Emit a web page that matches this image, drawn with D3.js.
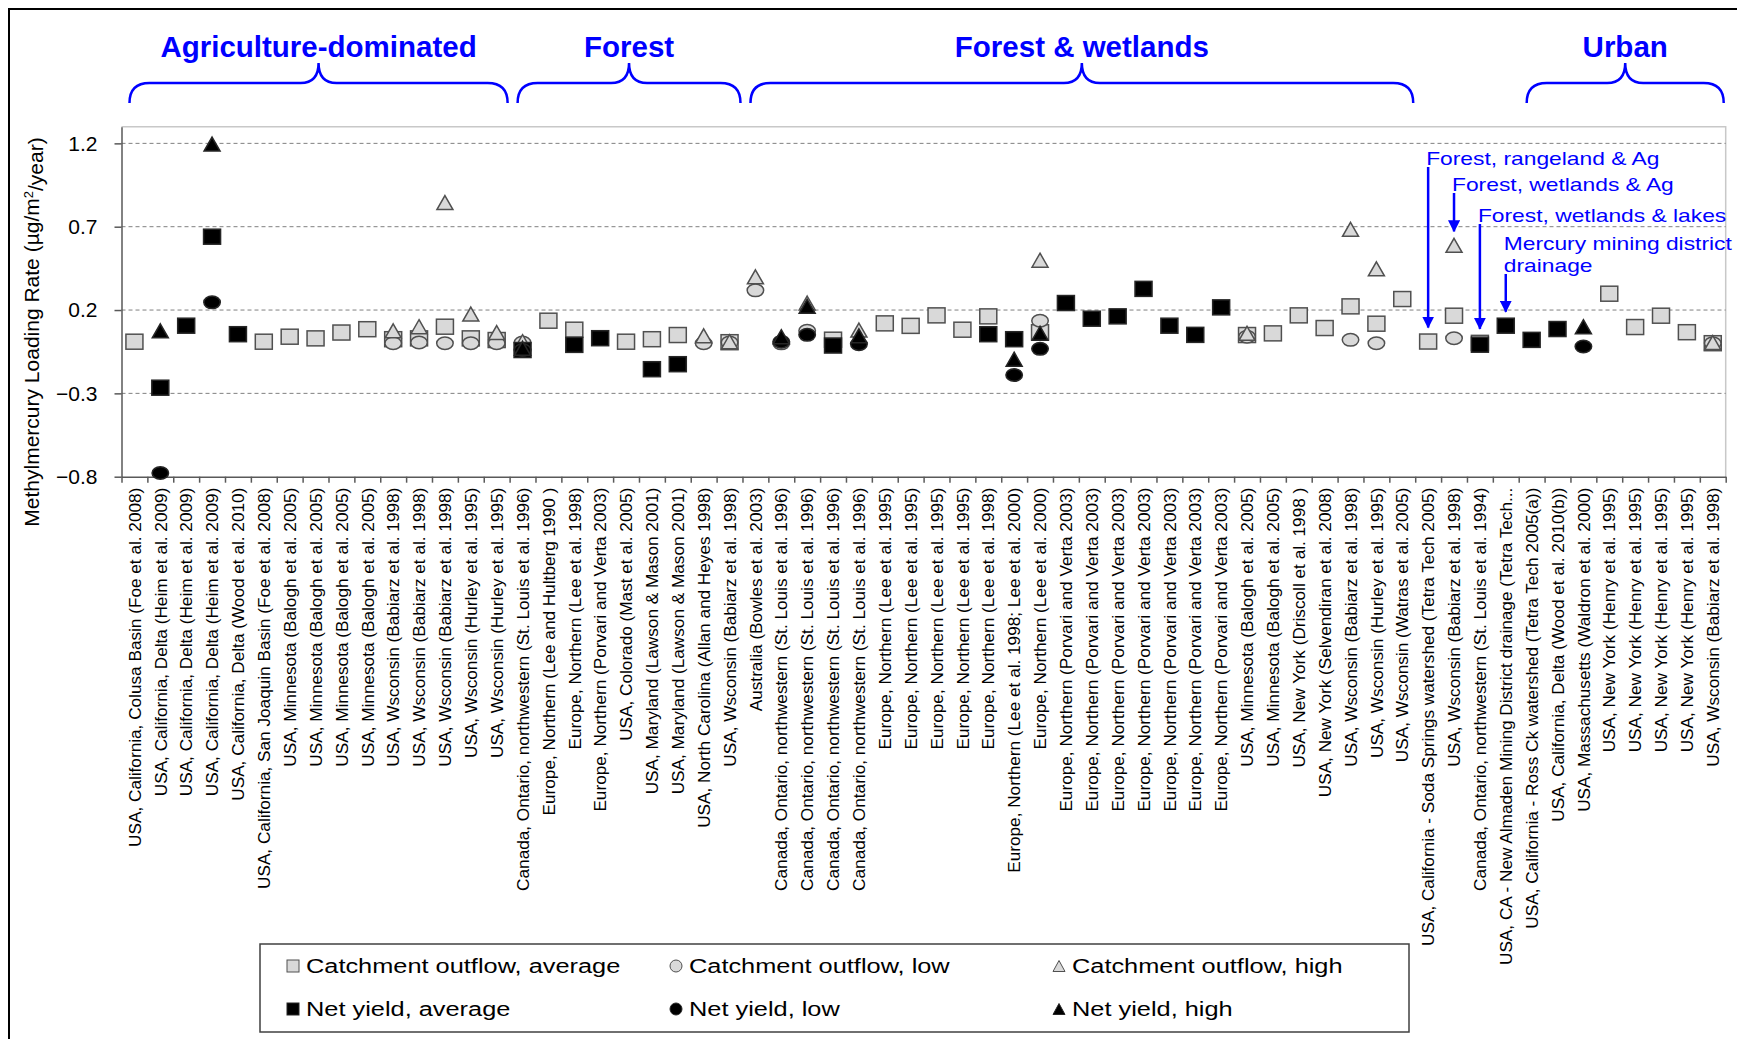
<!DOCTYPE html>
<meta charset="utf-8">
<style>
  body { margin: 0; background: #fff; }
  svg { display: block; font-family: "Liberation Sans", Arial, sans-serif; }
  .grid line { stroke: #808080; stroke-width: 1; stroke-dasharray: 4,3; }
  .axis path, .axis line { stroke: #595959; stroke-width: 1.5; }
  .ylab text { font-size: 21px; fill: #000; }
  .xlab text { font-size: 17.2px; fill: #000; }
</style>
<body>
<script src="https://d3js.org/d3.v7.min.js"></script>
<script>

var _ = null;

// one entry per site, left to right
var sites = [
  "USA, California, Colusa Basin (Foe et al. 2008)",
  "USA, California, Delta (Heim et al. 2009)",
  "USA, California, Delta (Heim et al. 2009)",
  "USA, California, Delta (Heim et al. 2009)",
  "USA, California, Delta (Wood et al. 2010)",
  "USA, California, San Joaquin Basin (Foe et al. 2008)",
  "USA, Minnesota (Balogh et al. 2005)",
  "USA, Minnesota (Balogh et al. 2005)",
  "USA, Minnesota (Balogh et al. 2005)",
  "USA, Minnesota (Balogh et al. 2005)",
  "USA, Wsconsin (Babiarz et al. 1998)",
  "USA, Wsconsin (Babiarz et al. 1998)",
  "USA, Wsconsin (Babiarz et al. 1998)",
  "USA, Wsconsin (Hurley et al. 1995)",
  "USA, Wsconsin (Hurley et al. 1995)",
  "Canada, Ontario, northwestern (St. Louis et al. 1996)",
  "Europe, Northern (Lee and Hultberg 1990 )",
  "Europe, Northern (Lee et al. 1998)",
  "Europe, Northern (Porvari and Verta 2003)",
  "USA, Colorado (Mast et al. 2005)",
  "USA, Maryland (Lawson & Mason 2001)",
  "USA, Maryland (Lawson & Mason 2001)",
  "USA, North Carolina (Allan and Heyes 1998)",
  "USA, Wsconsin (Babiarz et al. 1998)",
  "Australia (Bowles et al. 2003)",
  "Canada, Ontario, northwestern (St. Louis et al. 1996)",
  "Canada, Ontario, northwestern (St. Louis et al. 1996)",
  "Canada, Ontario, northwestern (St. Louis et al. 1996)",
  "Canada, Ontario, northwestern (St. Louis et al. 1996)",
  "Europe, Northern (Lee et al. 1995)",
  "Europe, Northern (Lee et al. 1995)",
  "Europe, Northern (Lee et al. 1995)",
  "Europe, Northern (Lee et al. 1995)",
  "Europe, Northern (Lee et al. 1998)",
  "Europe, Northern (Lee et al. 1998; Lee et al. 2000)",
  "Europe, Northern (Lee et al. 2000)",
  "Europe, Northern (Porvari and Verta 2003)",
  "Europe, Northern (Porvari and Verta 2003)",
  "Europe, Northern (Porvari and Verta 2003)",
  "Europe, Northern (Porvari and Verta 2003)",
  "Europe, Northern (Porvari and Verta 2003)",
  "Europe, Northern (Porvari and Verta 2003)",
  "Europe, Northern (Porvari and Verta 2003)",
  "USA, Minnesota (Balogh et al. 2005)",
  "USA, Minnesota (Balogh et al. 2005)",
  "USA, New York (Driscoll et al. 1998 )",
  "USA, New York (Selvendiran et al. 2008)",
  "USA, Wsconsin (Babiarz et al. 1998)",
  "USA, Wsconsin (Hurley et al. 1995)",
  "USA, Wsconsin (Watras et al. 2005)",
  "USA, California - Soda Springs watershed (Tetra Tech 2005)",
  "USA, Wsconsin (Babiarz et al. 1998)",
  "Canada, Ontario, northwestern (St. Louis et al. 1994)",
  "USA, CA - New Almaden Mining District drainage (Tetra Tech...",
  "USA, California - Ross Ck watershed (Tetra Tech 2005(a))",
  "USA, California, Delta (Wood et al. 2010(b))",
  "USA, Massachusetts (Waldron et al. 2000)",
  "USA, New York (Henry et al. 1995)",
  "USA, New York (Henry et al. 1995)",
  "USA, New York (Henry et al. 1995)",
  "USA, New York (Henry et al. 1995)",
  "USA, Wsconsin (Babiarz et al. 1998)"
];

// ug/m2/year, null = not reported
var catchAvg = [
  0.01, _, _, _, _, 0.01, 0.04, 0.03, 0.065, 0.085, 0.025, 0.03, 0.10, 0.03, 0.02,
  _, 0.136, 0.082, _, 0.01, 0.025, 0.05, _, 0.007,
  _, _, _, 0.022, _, 0.12, 0.105, 0.168, 0.082, 0.162, _, 0.067, _, _, _, _, _, _, _,
  0.05, 0.06, 0.168, 0.092, 0.222, 0.118, 0.266,
  0.011, 0.166, 0.003, _,
  _, _, _, 0.298, 0.098, 0.166, 0.067, 0.001
];
var catchLow = [
  _, _, _, _, _, _, _, _, _, _, 0.001, 0.005, 0.001, 0.001, 0.001,
  0.005, _, _, _, _, _, _, 0.001, 0.005,
  0.318, 0.0, 0.075, _, _, _, _, _, _, _, _, 0.136, _, _, _, _, _, _, _,
  0.04, _, _, _, 0.021, 0.001, _,
  _, 0.031, _, _,
  _, _, _, _, _, _, _, 0.0
];
var catchHigh = [
  _, _, _, _, _, _, _, _, _, _, 0.075, 0.1, 0.845, 0.176, 0.065,
  0.01, _, _, _, _, _, _, 0.045, 0.01,
  0.399, _, 0.242, _, 0.08, _, _, _, _, _, _, 0.499, _, _, _, _, _, _, _,
  0.06, _, _, _, 0.684, 0.447, _,
  _, 0.588, _, _,
  _, _, _, _, _, _, _, 0.005
];
var netAvg = [
  _, -0.266, 0.106, 0.64, 0.055, _, _, _, _, _, _, _, _, _, _,
  -0.04, _, -0.009, 0.031, _, -0.155, -0.125, _, _,
  _, _, _, -0.013, _, _, _, _, _, 0.055, 0.025, _, 0.242, 0.148, 0.162, 0.327, 0.106, 0.051, 0.216,
  _, _, _, _, _, _, _,
  _, _, -0.008, 0.106,
  0.021, 0.086, _, _, _, _, _, _
];
var netLow = [
  _, -0.778, _, 0.246, _, _, _, _, _, _, _, _, _, _, _,
  -0.04, _, _, _, _, _, _, _, _,
  _, 0.01, 0.051, _, -0.005, _, _, _, _, _, -0.19, -0.033, _, _, _, _, _, _, _,
  _, _, _, _, _, _, _,
  _, _, _, _,
  _, _, -0.019, _, _, _, _, _
];
var netHigh = [
  _, 0.075, _, 1.196, _, _, _, _, _, _, _, _, _, _, _,
  -0.03, _, _, _, _, _, _, _, _,
  _, 0.04, 0.222, _, 0.045, _, _, _, _, _, -0.095, 0.061, _, _, _, _, _, _, _,
  _, _, _, _, _, _, _,
  _, _, _, _,
  _, _, 0.1, _, _, _, _, _
];

var seriesNames = ["Catchment outflow, average", "Catchment outflow, low", "Catchment outflow, high",
                   "Net yield, average", "Net yield, low", "Net yield, high"];
var yTicks = [-0.8, -0.3, 0.2, 0.7, 1.2];

var groups = [
  {label: "Agriculture-dominated", first: 0, last: 14},
  {label: "Forest", first: 15, last: 23},
  {label: "Forest & wetlands", first: 24, last: 49},
  {label: "Urban", first: 54, last: 61}
];
var notes = [
  {site: 50, lines: ["Forest, rangeland & Ag"]},
  {site: 51, lines: ["Forest, wetlands & Ag"]},
  {site: 52, lines: ["Forest, wetlands & lakes"]},
  {site: 53, lines: ["Mercury mining district", "drainage"]}
];

var series = [catchAvg, catchLow, catchHigh, netAvg, netLow, netHigh];
var shapes = ["square", "circle", "triangle", "square", "circle", "triangle"];
var fills = ["#d9d9d9", "#d9d9d9", "#d9d9d9", "#000", "#000", "#000"];
var strokes = ["#505050", "#505050", "#505050", "#262626", "#262626", "#262626"];
var blue = "#0000ff";

var width = 1737, height = 1039;
var plot = {left: 121.5, right: 1725.7, top: 126.7, bottom: 476.7};

var svg = d3.select("body").append("svg")
    .attr("width", width)
    .attr("height", height);

svg.append("rect").attr("width", width).attr("height", height).attr("fill", "#fff");

// outer frame
svg.append("rect")
    .attr("x", 9).attr("y", 9)
    .attr("width", 1745).attr("height", 1045)
    .attr("fill", "none").attr("stroke", "#000").attr("stroke-width", 2);

var x = d3.scaleBand()
    .domain(d3.range(sites.length))
    .range([plot.left, plot.right]);
var xEdge = d3.scaleLinear()
    .domain([0, sites.length])
    .range([plot.left, plot.right]);
var y = d3.scaleLinear()
    .domain([-0.8, 1.3])
    .range([plot.bottom, plot.top]);

// plot frame (top/right light grey)
svg.append("path")
    .attr("d", "M" + plot.left + "," + plot.top + "H" + plot.right + "V" + plot.bottom)
    .attr("fill", "none").attr("stroke", "#c8c8c8").attr("stroke-width", 1.5);

// dashed gridlines
svg.append("g").attr("class", "grid")
  .selectAll("line")
  .data(yTicks.filter(function(d) { return d > -0.8; }))
  .enter().append("line")
    .attr("x1", plot.left).attr("x2", plot.right)
    .attr("y1", function(d) { return y(d); })
    .attr("y2", function(d) { return y(d); });

// y axis
svg.append("g")
    .attr("class", "axis ylab")
    .attr("transform", "translate(" + plot.left + ",0)")
    .call(d3.axisLeft(y).tickValues(yTicks).tickSize(7).tickSizeOuter(0).tickPadding(17)
      .tickFormat(d3.format(".1f")));

// x axis ticks between sites
svg.append("g")
    .attr("class", "axis")
    .attr("transform", "translate(0," + plot.bottom + ")")
    .call(d3.axisBottom(xEdge).tickValues(d3.range(sites.length + 1)).tickSize(6).tickSizeOuter(0)
      .tickFormat(""));

// x labels
var xl = svg.append("g")
    .attr("class", "xlab")
    .attr("transform", "translate(0," + plot.bottom + ")")
    .call(d3.axisBottom(x).tickSize(0).tickFormat(function(i) { return sites[i]; }));
xl.select(".domain").remove();
xl.selectAll("text")
    .attr("transform", "rotate(-90)")
    .attr("text-anchor", "end")
    .attr("x", -11)
    .attr("y", 0)
    .attr("dy", "0.36em");

// y title
var yt = svg.append("text")
    .attr("transform", "translate(39,332) rotate(-90)")
    .attr("text-anchor", "middle")
    .style("font-size", "21px")
    .text("Methylmercury Loading Rate (µg/m");
yt.append("tspan").attr("dy", "-0.45em").style("font-size", "13px").text("2");
yt.append("tspan").attr("dy", "0.45em").text("/year)");

function marker(g, shape, w, h) {
  if (shape == "square") {
    g.append("rect").attr("x", -w / 2).attr("y", -h / 2).attr("width", w).attr("height", h);
  } else if (shape == "circle") {
    g.append("ellipse").attr("rx", w / 2).attr("ry", h / 2);
  } else {
    g.append("path").attr("d", "M0," + (-h / 2) + "L" + (w / 2) + "," + (h / 2) + "L" + (-w / 2) + "," + (h / 2) + "Z");
  }
}

var sizes = {square: [17, 15], circle: [16.5, 12.5], triangle: [16, 14]};

series.forEach(function(vals, s) {
  var pts = svg.append("g")
      .attr("fill", fills[s]).attr("stroke", strokes[s]).attr("stroke-width", 1.5)
    .selectAll("g")
    .data(vals.map(function(v, i) { return {i: i, v: v}; }).filter(function(d) { return d.v !== null; }))
    .enter().append("g")
      .attr("transform", function(d) { return "translate(" + (x(d.i) + x.bandwidth() / 2) + "," + y(d.v) + ")"; });
  pts.each(function() { marker(d3.select(this), shapes[s], sizes[shapes[s]][0], sizes[shapes[s]][1]); });
});

// group braces
function brace(x0, x1, yTop, yMid, yEnd) {
  var xc = (x0 + x1) / 2, r = 20, rc = 18;
  return "M" + x0 + "," + yEnd + "Q" + x0 + "," + yMid + " " + (x0 + r) + "," + yMid +
    "L" + (xc - rc) + "," + yMid + "Q" + xc + "," + yMid + " " + xc + "," + yTop +
    "Q" + xc + "," + yMid + " " + (xc + rc) + "," + yMid +
    "L" + (x1 - r) + "," + yMid + "Q" + x1 + "," + yMid + " " + x1 + "," + yEnd;
}
groups.forEach(function(g) {
  var x0 = x(g.first) + 8, x1 = x(g.last) + x.bandwidth() - 2;
  svg.append("path")
      .attr("d", brace(x0, x1, 63, 83, 103))
      .attr("fill", "none").attr("stroke", blue).attr("stroke-width", 2.5);
  svg.append("text")
      .attr("x", (x0 + x1) / 2).attr("y", 57)
      .attr("text-anchor", "middle")
      .attr("fill", blue)
      .style("font-size", "29.5px").style("font-weight", "bold")
      .text(g.label);
});

// annotations with arrows
svg.append("defs").append("marker")
    .attr("id", "arr")
    .attr("markerUnits", "userSpaceOnUse")
    .attr("viewBox", "0 0 12 12")
    .attr("refX", 11).attr("refY", 6)
    .attr("markerWidth", 12).attr("markerHeight", 12)
    .attr("orient", "auto")
  .append("path").attr("d", "M0,0L12,6L0,12Z").attr("fill", blue);

var noteBase = [165, 191, 222, 250];
notes.forEach(function(n, k) {
  var cx = x(n.site) + x.bandwidth() / 2;
  var top = d3.max(series, function(vals) { return vals[n.site]; });
  var t = svg.append("text")
      .attr("x", cx - 2).attr("y", noteBase[k])
      .attr("fill", blue)
      .style("font-size", "19px");
  n.lines.forEach(function(line, j) {
    t.append("tspan").attr("x", cx - 2).attr("dy", j ? 22 : 0).text(line);
  });
  t.selectAll("tspan").each(function() {
    var len = this.getComputedTextLength();
    d3.select(this).attr("textLength", len * 1.2).attr("lengthAdjust", "spacingAndGlyphs");
  });
  var y0 = noteBase[k] + (n.lines.length - 1) * 22 + 2;
  svg.append("line")
      .attr("x1", cx).attr("x2", cx)
      .attr("y1", y0).attr("y2", y(top) - 14)
      .attr("stroke", blue).attr("stroke-width", 2.5)
      .attr("marker-end", "url(#arr)");
});

// legend
var legend = svg.append("g").attr("transform", "translate(260,944)");
legend.append("rect")
    .attr("width", 1149).attr("height", 88)
    .attr("fill", "#fff").attr("stroke", "#404040").attr("stroke-width", 1.5);
var legSizes = {square: [12, 12], circle: [12, 12], triangle: [12, 11]};
var colX = [33, 416, 799], rowY = [22, 65];
seriesNames.forEach(function(name, s) {
  var item = legend.append("g")
      .attr("transform", "translate(" + colX[s % 3] + "," + rowY[Math.floor(s / 3)] + ")");
  var m = item.append("g").attr("fill", fills[s]).attr("stroke", strokes[s]).attr("stroke-width", 1);
  marker(m, shapes[s], legSizes[shapes[s]][0], legSizes[shapes[s]][1]);
  var t = item.append("text")
      .attr("x", 13).attr("dy", "0.35em")
      .style("font-size", "19.5px")
      .text(name);
  t.attr("textLength", t.node().getComputedTextLength() * 1.3).attr("lengthAdjust", "spacingAndGlyphs");
});

</script>
</body>
</html>
